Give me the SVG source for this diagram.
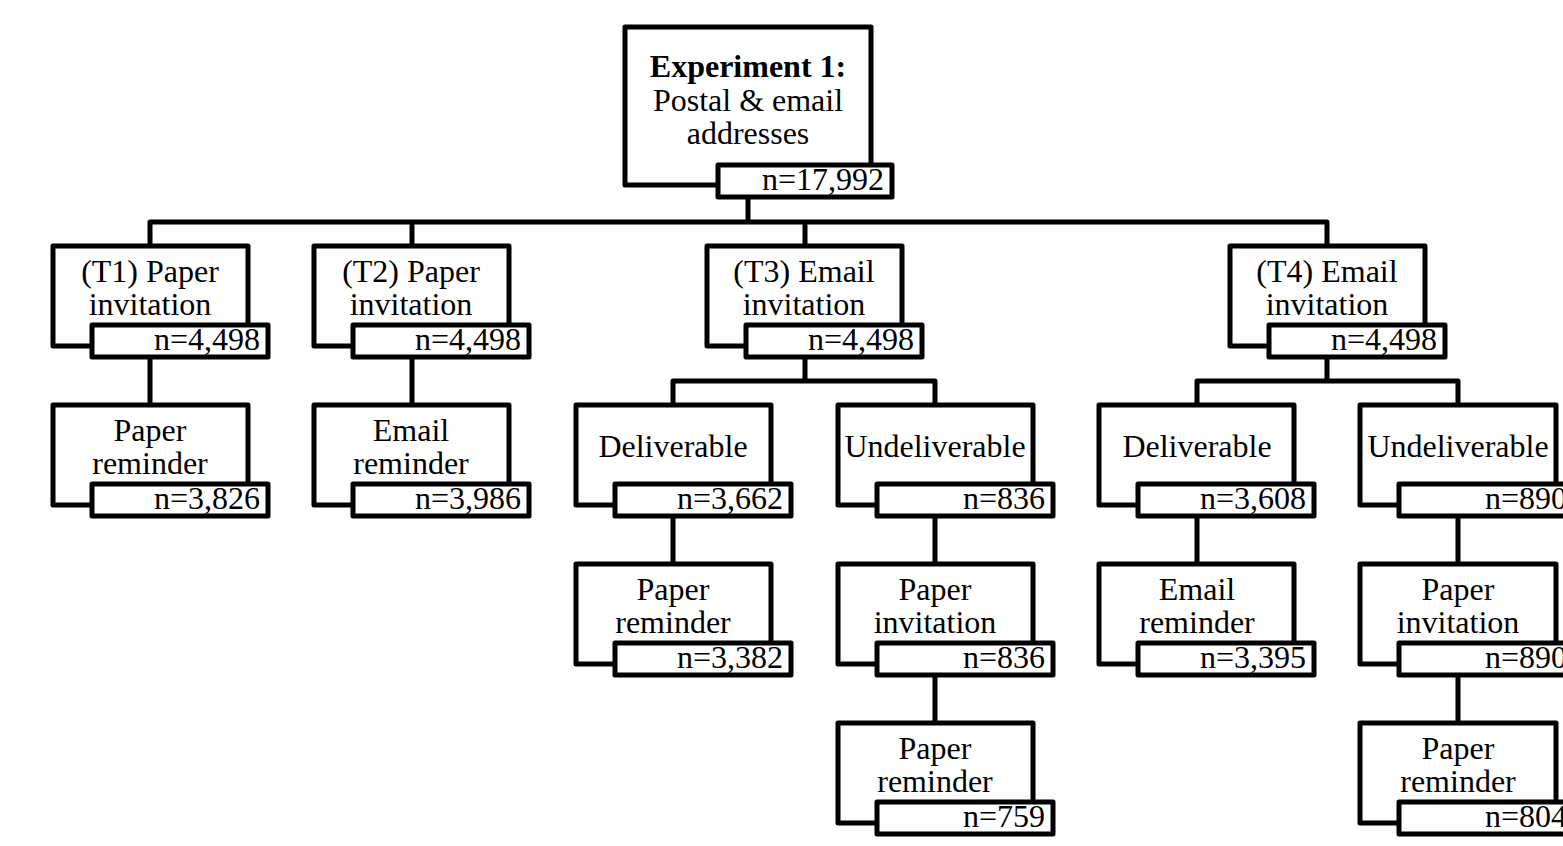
<svg xmlns="http://www.w3.org/2000/svg" width="1563" height="846" viewBox="0 0 1563 846">
<style>
.box{fill:#fff;stroke:#000;stroke-width:5;stroke-linejoin:round}
.c{fill:none;stroke:#000;stroke-width:5;stroke-linejoin:round}
.t{font-family:"Liberation Serif","Times New Roman",serif;font-size:32px;text-anchor:middle;fill:#000}
.b{font-weight:bold}
.n{text-anchor:end}
</style>
<rect width="1563" height="846" fill="#fff"/>
<g id="connectors">
<path class="c" d="M748,197V222M150,246V222H1327V246M412,222V246M805,222V246"/>
<path class="c" d="M150,357V405M412,357V405"/>
<path class="c" d="M805,357V381M673,405V381H935V405"/>
<path class="c" d="M1327,357V381M1197,405V381H1458V405"/>
<path class="c" d="M673,516V564M935,516V564M1197,516V564M1458,516V564"/>
<path class="c" d="M935,675V723M1458,675V723"/>
</g>
<g id="n0">
<rect class="box" x="625" y="27" width="246" height="158"/>
<rect class="box" x="718" y="165" width="174" height="32"/>
<text class="t b" x="748" y="77">Experiment 1:</text>
<text class="t" x="748" y="111">Postal &amp; email</text>
<text class="t" x="748" y="144">addresses</text>
<text class="t n" x="884" y="190">n=17,992</text>
</g>
<g id="t1">
<rect class="box" x="53" y="246" width="195" height="100"/>
<rect class="box" x="92" y="325" width="176" height="32"/>
<text class="t" x="150" y="282">(T1) Paper</text>
<text class="t" x="150" y="315">invitation</text>
<text class="t n" x="260" y="350">n=4,498</text>
</g>
<g id="t2">
<rect class="box" x="314" y="246" width="195" height="100"/>
<rect class="box" x="353" y="325" width="176" height="32"/>
<text class="t" x="411" y="282">(T2) Paper</text>
<text class="t" x="411" y="315">invitation</text>
<text class="t n" x="521" y="350">n=4,498</text>
</g>
<g id="t3">
<rect class="box" x="707" y="246" width="195" height="100"/>
<rect class="box" x="746" y="325" width="176" height="32"/>
<text class="t" x="804" y="282">(T3) Email</text>
<text class="t" x="804" y="315">invitation</text>
<text class="t n" x="914" y="350">n=4,498</text>
</g>
<g id="t4">
<rect class="box" x="1230" y="246" width="195" height="100"/>
<rect class="box" x="1269" y="325" width="176" height="32"/>
<text class="t" x="1327" y="282">(T4) Email</text>
<text class="t" x="1327" y="315">invitation</text>
<text class="t n" x="1437" y="350">n=4,498</text>
</g>
<g id="t1-reminder">
<rect class="box" x="53" y="405" width="195" height="100"/>
<rect class="box" x="92" y="484" width="176" height="32"/>
<text class="t" x="150" y="441">Paper</text>
<text class="t" x="150" y="474">reminder</text>
<text class="t n" x="260" y="509">n=3,826</text>
</g>
<g id="t2-reminder">
<rect class="box" x="314" y="405" width="195" height="100"/>
<rect class="box" x="353" y="484" width="176" height="32"/>
<text class="t" x="411" y="441">Email</text>
<text class="t" x="411" y="474">reminder</text>
<text class="t n" x="521" y="509">n=3,986</text>
</g>
<g id="t3-deliverable">
<rect class="box" x="576" y="405" width="195" height="100"/>
<rect class="box" x="615" y="484" width="176" height="32"/>
<text class="t" x="673" y="457">Deliverable</text>
<text class="t n" x="783" y="509">n=3,662</text>
</g>
<g id="t3-undeliverable">
<rect class="box" x="838" y="405" width="195" height="100"/>
<rect class="box" x="877" y="484" width="176" height="32"/>
<text class="t" x="935" y="457">Undeliverable</text>
<text class="t n" x="1045" y="509">n=836</text>
</g>
<g id="t4-deliverable">
<rect class="box" x="1099" y="405" width="195" height="100"/>
<rect class="box" x="1138" y="484" width="176" height="32"/>
<text class="t" x="1197" y="457">Deliverable</text>
<text class="t n" x="1306" y="509">n=3,608</text>
</g>
<g id="t4-undeliverable">
<rect class="box" x="1360" y="405" width="196" height="100"/>
<rect class="box" x="1399" y="484" width="176" height="32"/>
<text class="t" x="1458" y="457">Undeliverable</text>
<text class="t n" x="1567" y="509">n=890</text>
</g>
<g id="t3-deliverable-reminder">
<rect class="box" x="576" y="564" width="195" height="100"/>
<rect class="box" x="615" y="643" width="176" height="32"/>
<text class="t" x="673" y="600">Paper</text>
<text class="t" x="673" y="633">reminder</text>
<text class="t n" x="783" y="668">n=3,382</text>
</g>
<g id="t3-undeliverable-invitation">
<rect class="box" x="838" y="564" width="195" height="100"/>
<rect class="box" x="877" y="643" width="176" height="32"/>
<text class="t" x="935" y="600">Paper</text>
<text class="t" x="935" y="633">invitation</text>
<text class="t n" x="1045" y="668">n=836</text>
</g>
<g id="t4-deliverable-reminder">
<rect class="box" x="1099" y="564" width="195" height="100"/>
<rect class="box" x="1138" y="643" width="176" height="32"/>
<text class="t" x="1197" y="600">Email</text>
<text class="t" x="1197" y="633">reminder</text>
<text class="t n" x="1306" y="668">n=3,395</text>
</g>
<g id="t4-undeliverable-invitation">
<rect class="box" x="1360" y="564" width="196" height="100"/>
<rect class="box" x="1399" y="643" width="176" height="32"/>
<text class="t" x="1458" y="600">Paper</text>
<text class="t" x="1458" y="633">invitation</text>
<text class="t n" x="1567" y="668">n=890</text>
</g>
<g id="t3-undeliverable-reminder">
<rect class="box" x="838" y="723" width="195" height="100"/>
<rect class="box" x="877" y="802" width="176" height="32"/>
<text class="t" x="935" y="759">Paper</text>
<text class="t" x="935" y="792">reminder</text>
<text class="t n" x="1045" y="827">n=759</text>
</g>
<g id="t4-undeliverable-reminder">
<rect class="box" x="1360" y="723" width="196" height="100"/>
<rect class="box" x="1399" y="802" width="176" height="32"/>
<text class="t" x="1458" y="759">Paper</text>
<text class="t" x="1458" y="792">reminder</text>
<text class="t n" x="1567" y="827">n=804</text>
</g>
</svg>
